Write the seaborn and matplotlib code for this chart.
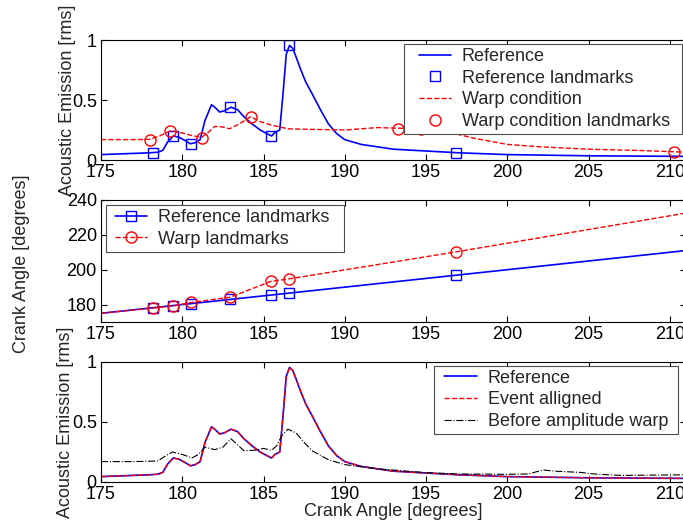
import matplotlib
matplotlib.use("Agg")
import matplotlib.pyplot as plt
from matplotlib.path import Path
import seaborn as sns

# ---------------- data ----------------
# Reference acoustic emission signal (top & bottom panels)
ref_x = [175, 176, 177, 178, 178.5, 178.8, 179.1, 179.45, 179.8, 180.2, 180.5, 180.8, 181.1,
         181.4, 181.8, 182.0, 182.3, 182.6, 183.0, 183.4, 183.8, 184.3, 184.8, 185.2, 185.5,
         185.7, 186.0, 186.2, 186.4, 186.6, 186.8, 187.0, 187.3, 187.6, 188.0, 188.5, 189.0,
         189.5, 190.0, 191, 192, 193, 195, 197, 200, 205, 211]
ref_y = [0.045, 0.05, 0.055, 0.06, 0.065, 0.08, 0.15, 0.2, 0.19, 0.16, 0.135, 0.145, 0.17,
         0.33, 0.46, 0.44, 0.40, 0.41, 0.44, 0.42, 0.36, 0.30, 0.25, 0.22, 0.2,
         0.23, 0.25, 0.55, 0.88, 0.955, 0.93, 0.86, 0.75, 0.65, 0.55, 0.42, 0.30,
         0.22, 0.17, 0.13, 0.11, 0.09, 0.075, 0.06, 0.045, 0.035, 0.03]

# Warp condition signal (top panel)
warp_x = [175, 177, 178, 178.6, 179.3, 180, 180.7, 181.2, 181.6, 182.0, 182.5, 182.9, 183.5,
          184.2, 184.8, 185.5, 186.5, 188, 190, 191, 192, 193.3, 194.7, 196.3, 198, 200,
          202, 205, 208, 211]
warp_y = [0.17, 0.17, 0.172, 0.2, 0.245, 0.225, 0.2, 0.19, 0.23, 0.28, 0.275, 0.26, 0.30,
          0.36, 0.32, 0.29, 0.26, 0.255, 0.25, 0.26, 0.27, 0.265, 0.26, 0.235, 0.18, 0.13,
          0.11, 0.09, 0.08, 0.065]

# Landmarks
ref_lm_x = [178.2, 179.45, 180.55, 182.95, 185.45, 186.55, 196.85]
ref_lm_y = [0.06, 0.2, 0.135, 0.44, 0.2, 0.955, 0.058]
warp_lm_x = [178.0, 179.25, 181.2, 184.25, 193.3, 194.7, 210.25]
warp_lm_y = [0.168, 0.245, 0.185, 0.357, 0.262, 0.26, 0.068]

# Middle panel: landmark mapping (with end points of the range)
map_x = [175] + ref_lm_x + [211]
map_ref = [175] + ref_lm_x + [211]
map_warp = [175] + warp_lm_x + [232.5]

# Bottom panel: event aligned & before amplitude warp
ev_x = ref_x
ev_y = ref_y
bw_x = [175, 177, 178.5, 179.0, 179.4, 180.0, 180.6, 181.0, 181.4, 182.0, 182.5, 183.0, 183.4,
        183.8, 184.5, 185.0, 185.5, 185.8, 186.1, 186.5, 187.0, 187.5, 188, 189, 190, 192,
        195, 197, 200, 201.3, 202.2, 203, 204.5, 205.5, 207, 211]
bw_y = [0.17, 0.17, 0.175, 0.22, 0.25, 0.23, 0.2, 0.23, 0.29, 0.27, 0.29, 0.36, 0.31,
        0.26, 0.265, 0.28, 0.265, 0.3, 0.38, 0.44, 0.41, 0.33, 0.26, 0.185, 0.145, 0.11,
        0.078, 0.067, 0.064, 0.067, 0.10, 0.09, 0.08, 0.065, 0.055, 0.06]

xticks = [175, 180, 185, 190, 195, 200, 205, 210]

# ---------------- style ----------------
sns.set_style("ticks")
plt.rcParams["font.family"] = ["Liberation Sans", "DejaVu Sans"]
plt.rcParams.update({
    "font.size": 13,
    "xtick.direction": "in", "ytick.direction": "in",
    "xtick.top": True, "ytick.right": True,
    "xtick.major.size": 4, "ytick.major.size": 4,
    "xtick.major.width": 0.8, "ytick.major.width": 0.8,
    "xtick.major.pad": 3, "ytick.major.pad": 3,
    "axes.linewidth": 0.8,
    "axes.edgecolor": "black",
    "xtick.color": "black", "ytick.color": "black",
    "xtick.labelsize": 13, "ytick.labelsize": 13,
    "legend.fontsize": 13,
})


class PadBox:
    """Square legend frame with extra horizontal padding (pixels)."""
    def __init__(self, left, right):
        self.left = left
        self.right = right

    def __call__(self, x0, y0, width, height, mutation_size):
        xa = x0 - self.left
        xb = x0 + width + self.right
        ya, yb = y0, y0 + height
        return Path([(xa, ya), (xb, ya), (xb, yb), (xa, yb), (xa, ya)], closed=True)


W, H = 683, 524
fig = plt.figure(figsize=(W / 100, H / 100), dpi=100)
left = 101 / W
width = 585 / W
ax1 = fig.add_axes([left, 1 - 160 / H, width, 120 / H])
ax2 = fig.add_axes([left, 1 - 322 / H, width, 122 / H])
ax3 = fig.add_axes([left, 1 - 482 / H, width, 120 / H])

legkw = dict(frameon=True, fancybox=False, framealpha=1, edgecolor="0.3",
             handlelength=1.8, handletextpad=0.6, labelspacing=0.26,
             borderpad=0.22, borderaxespad=0)


def style_legend(leg, lpad, rpad):
    leg.get_frame().set_boxstyle(PadBox(lpad, rpad))
    leg.get_frame().set_linewidth(0.8)


# ---- top panel ----
sns.lineplot(x=ref_x, y=ref_y, ax=ax1, color="blue", lw=1.2, label="Reference")
sns.lineplot(x=ref_lm_x, y=ref_lm_y, ax=ax1, color="blue", ls="none", marker="s",
             ms=7, mfc="none", mec="blue", mew=1, label="Reference landmarks")
sns.lineplot(x=warp_x, y=warp_y, ax=ax1, color="red", lw=1.0, ls="--", label="Warp condition")
sns.lineplot(x=warp_lm_x, y=warp_lm_y, ax=ax1, color="red", ls="none", marker="o",
             ms=8, mfc="none", mec="red", mew=1, label="Warp condition landmarks")
ax1.set_ylim(0, 1)
ax1.set_yticks([0, 0.5, 1])
ax1.set_yticklabels(["0", "0.5", "1"])
ax1.set_ylabel("Acoustic Emission [rms]")
ax1.yaxis.set_label_coords(-0.043, 0.5)
leg1 = ax1.legend(loc="upper right", bbox_to_anchor=(0.9795, 0.967), **legkw)
style_legend(leg1, 11, 8)

# ---- middle panel ----
sns.lineplot(x=map_x, y=map_ref, ax=ax2, color="blue", lw=1.2, marker="s", ms=7,
             mfc="none", mec="blue", mew=1, markevery=list(range(1, len(map_x) - 1)),
             label="Reference landmarks")
sns.lineplot(x=map_x, y=map_warp, ax=ax2, color="red", lw=1.0, ls="--", marker="o", ms=8,
             mfc="none", mec="red", mew=1, markevery=list(range(1, len(map_x) - 1)),
             label="Warp landmarks")
ax2.set_ylim(170, 240)
ax2.set_yticks([180, 200, 220, 240])
ax2.set_ylabel("Crank Angle [degrees]")
ax2.yaxis.set_label_coords(-0.121, 0.48)
leg2 = ax2.legend(loc="upper left", bbox_to_anchor=(0.0171, 0.959), **legkw)
style_legend(leg2, 5, 10)

# ---- bottom panel ----
sns.lineplot(x=ref_x, y=ref_y, ax=ax3, color="blue", lw=1.2, label="Reference")
sns.lineplot(x=ev_x, y=ev_y, ax=ax3, color="red", lw=1.0, ls="--", label="Event alligned")
sns.lineplot(x=bw_x, y=bw_y, ax=ax3, color="black", lw=0.8, ls="-.", label="Before amplitude warp")
ax3.set_ylim(0, 1)
ax3.set_yticks([0, 0.5, 1])
ax3.set_yticklabels(["0", "0.5", "1"])
ax3.set_ylabel("Acoustic Emission [rms]")
ax3.yaxis.set_label_coords(-0.0465, 0.5)
ax3.set_xlabel("Crank Angle [degrees]", labelpad=0)
leg3 = ax3.legend(loc="upper right", bbox_to_anchor=(0.9760, 0.969), **legkw)
style_legend(leg3, 6, 6)

for ax in (ax1, ax2, ax3):
    ax.set_xlim(175, 211)
    ax.set_xticks(xticks)
    for s in ax.spines.values():
        s.set_visible(True)
        s.set_color("black")
    ax.set_facecolor("white")

fig.savefig("out.png", dpi=100, facecolor="white")
